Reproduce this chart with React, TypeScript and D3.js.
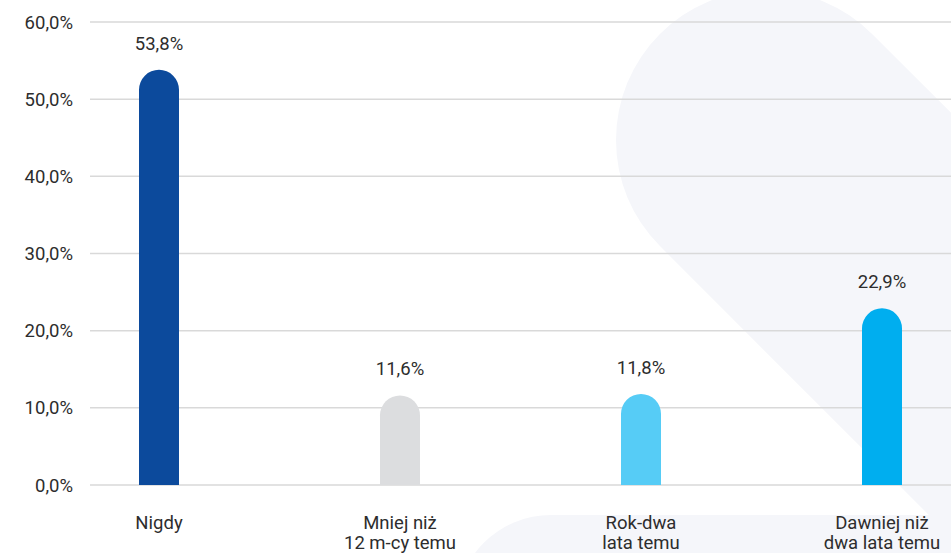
import React from "react";
import * as d3 from "d3";

const categories: string[][] = [["Nigdy"], ["Mniej niż", "12 m-cy temu"], ["Rok-dwa", "lata temu"], ["Dawniej niż", "dwa lata temu"]];
const values: number[] = [53.8, 11.6, 11.8, 22.9];
const barColors: string[] = ["#0c4a9c", "#dcdddf", "#56ccf6", "#00aeef"];
const yTicks: number[] = [0, 10, 20, 30, 40, 50, 60];

const W = 951;
const H = 553;
const fmt = (v: number) => v.toFixed(1).replace(".", ",") + "%";

export default function App() {
  const y = d3.scaleLinear().domain([0, 60]).range([485, 22]);
  const x = d3.scaleBand<number>().domain(d3.range(categories.length)).range([38.5, 1002.5]).paddingInner(0).paddingOuter(0);
  const bw = 40;
  const r = bw / 2;
  const font = "Roboto, 'Noto Sans', sans-serif";
  const fs = 18.5;

  const barPath = (i: number) => {
    const cx = (x(i) as number) + x.bandwidth() / 2;
    const x0 = cx - r;
    const x1 = cx + r;
    const top = y(values[i]);
    const base = y(0);
    const p = d3.path();
    p.moveTo(x0, base);
    p.lineTo(x0, top + r);
    p.arc(cx, top + r, r, Math.PI, 0);
    p.lineTo(x1, base);
    p.closePath();
    return p.toString();
  };

  return (
    <svg width={W} height={H} style={{ position: "absolute", left: 0, top: 0, display: "block" }}>
      <rect width={W} height={H} fill="#ffffff" />
      {/* decorative background shapes */}
      <line x1={766} y1={140} x2={1400} y2={774} stroke="#f5f6fa" strokeWidth={300} strokeLinecap="round" />
      <rect x={456} y={515} width={700} height={220} rx={95} fill="#f5f6fa" />
      {/* gridlines */}
      {yTicks.map((t) => (
        <line key={t} x1={90} x2={W} y1={y(t)} y2={y(t)} stroke="#d9d9d9" strokeWidth={1.5} />
      ))}
      {yTicks.map((t) => (
        <text key={"l" + t} x={73} y={y(t) + 6.5} textAnchor="end" fontFamily={font} fontSize={fs} fill="#2d2d2d">
          {fmt(t)}
        </text>
      ))}
      {values.map((v, i) => {
        const cx = (x(i) as number) + x.bandwidth() / 2;
        return (
          <g key={i}>
            <path d={barPath(i)} fill={barColors[i]} />
            <text x={cx} y={y(v) - 20} textAnchor="middle" fontFamily={font} fontSize={fs} fill="#2d2d2d">
              {fmt(v)}
            </text>
            {categories[i].map((line, j) => (
              <text key={j} x={cx} y={529 + j * 20} textAnchor="middle" fontFamily={font} fontSize={fs} fill="#2d2d2d">
                {line}
              </text>
            ))}
          </g>
        );
      })}
    </svg>
  );
}
